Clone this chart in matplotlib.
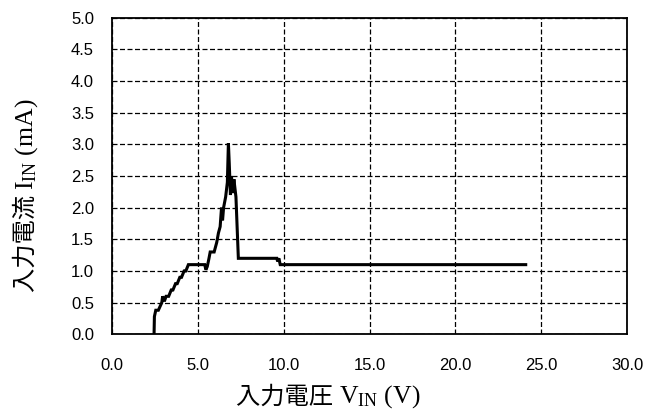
import matplotlib
matplotlib.use("Agg")
import matplotlib.pyplot as plt

v_in = [2.45, 2.47, 2.55, 2.7, 2.9, 2.95, 3.05, 3.15, 3.3, 3.45, 3.55, 3.7, 3.8, 3.95,
        4.05, 4.2, 4.3, 4.45, 5.4, 5.47, 5.55, 5.65, 5.72, 5.95, 6.1, 6.2, 6.3, 6.38,
        6.44, 6.5, 6.62, 6.72, 6.78, 6.83, 6.9, 6.96, 7.03, 7.1, 7.22, 7.36, 9.6, 9.65,
        9.72, 9.8, 24.1]
i_in = [0.0, 0.28, 0.38, 0.38, 0.5, 0.6, 0.52, 0.6, 0.6, 0.7, 0.7, 0.8, 0.8, 0.9,
        0.9, 1.0, 1.0, 1.1, 1.1, 1.02, 1.07, 1.2, 1.3, 1.3, 1.45, 1.6, 1.7, 2.0,
        1.8, 2.0, 2.17, 2.4, 3.02, 2.7, 2.2, 2.5, 2.23, 2.45, 2.17, 1.2, 1.2, 1.15,
        1.2, 1.1, 1.1]

x_ticks = [0, 5, 10, 15, 20, 25, 30]
y_ticks = [0, 0.5, 1, 1.5, 2, 2.5, 3, 3.5, 4, 4.5, 5]

fig = plt.figure(figsize=(6.48, 4.12), dpi=100)
ax = fig.add_axes([112/648, 1-334.3/412, (627-112)/648, (334.3-17.7)/412])

ax.plot(v_in, i_in, color="black", lw=2.2, solid_joinstyle="miter")
ax.set_xlim(0, 30)
ax.set_ylim(0, 5)
ax.set_xticks(x_ticks)
ax.set_yticks(y_ticks)
ax.set_xticklabels([f"{t:.1f}" for t in x_ticks], family="Liberation Sans", fontsize=12)
ax.set_yticklabels([f"{t:.1f}" for t in y_ticks], family="Liberation Sans", fontsize=12)
ax.tick_params(length=0)
ax.tick_params(axis="x", pad=17)
ax.tick_params(axis="y", pad=13)
ax.grid(True, color="black", ls=(0, (4, 2)), lw=0.9)
ax.set_axisbelow(True)
for s in ax.spines.values():
    s.set_linewidth(1.3)
    s.set_color("black")

# x label
t1 = fig.text(339/648, 1-404/412, "入力電圧 ", family="Noto Sans CJK JP", fontsize=17.5,
              ha="right", va="baseline")
ax.annotate(r"$\mathregular{V_{IN}}$ (V)", xy=(1, 0), xycoords=t1, va="bottom",
            ha="left", family="Liberation Serif", fontsize=18.5)
# y label
t2 = fig.text(26/648, 1-292/412, "入力電流 ", family="Noto Sans CJK JP", fontsize=17.5,
              rotation=90, ha="center", va="bottom")
ax.annotate(r"$\mathregular{I_{IN}}$ (mA)", xy=(0, 1), xycoords=t2, va="bottom",
            ha="left", family="Liberation Serif", fontsize=18.5, rotation=90)

fig.savefig("out.png", dpi=100)
